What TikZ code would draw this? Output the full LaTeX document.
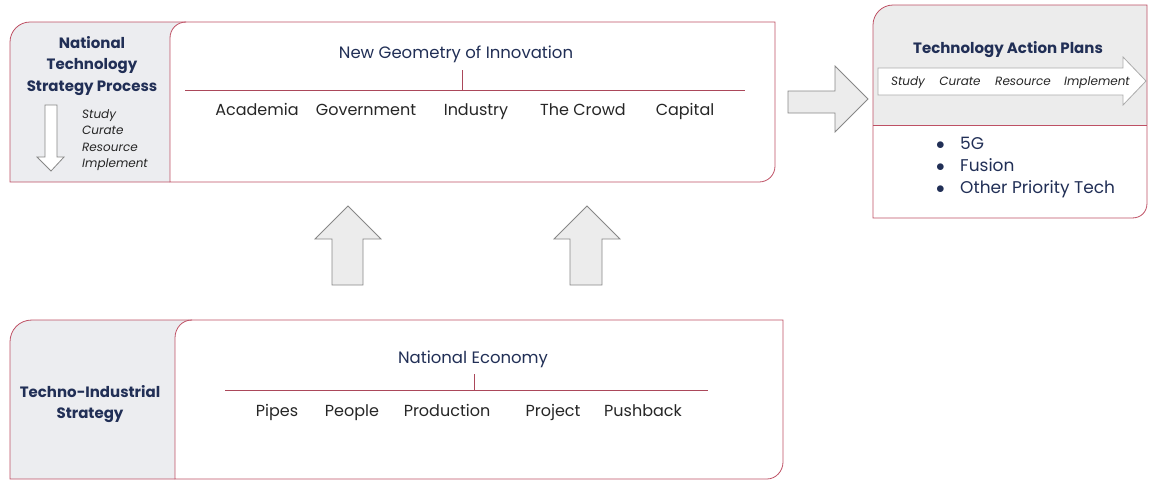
\documentclass[tikz,border=0pt]{standalone}
\usepackage{fontspec}
\setmainfont{Poppins}
\usetikzlibrary{positioning}

\definecolor{navy}{RGB}{33,47,86}
\definecolor{boxred}{RGB}{190,80,100}
\definecolor{panelgray}{RGB}{236,237,240}
\definecolor{arrowgray}{RGB}{236,236,236}
\definecolor{arrowedge}{RGB}{135,135,135}

\newcommand{\bigdot}{\makebox[24pt][l]{$\bullet$}}

\begin{document}
\begin{tikzpicture}[x=1pt, y=-1pt,
        panel/.style={fill=panelgray},
        frame/.style={draw=boxred, line width=0.8pt},
        redline/.style={draw=boxred!90!black, line width=1pt},
        blockarrow/.style={fill=arrowgray, draw=arrowedge, line width=0.8pt, line join=miter},
        title/.style={font=\fontsize{16.5}{20}\selectfont, text=navy, anchor=base},
        head/.style={font=\fontsize{15}{21.5}\selectfont\bfseries, text=navy, align=center},
        item/.style={font=\fontsize{16}{20}\selectfont, text=black!85, anchor=base},
        steps/.style={font=\fontsize{12}{16.5}\selectfont\itshape, text=black!85},
        bullet/.style={font=\fontsize{17}{22}\selectfont, text=navy, anchor=base west},
        every node/.style={inner sep=0pt}
    ]
        \useasboundingbox (0,0) rectangle (1150,482);

        % Khung tren: National Technology Strategy Process
        \path[panel] (10,182) -- (10,42) .. controls (10,31) and (19,22) .. (30,22) -- (190,22) -- (190,182) -- cycle;
        \draw[frame, fill=white] (170,182) -- (170,38) .. controls (170,29) and (177,22) .. (186,22) -- (775,22) -- (775,166) .. controls (775,175) and (768,182) .. (759,182) -- cycle;
        \draw[frame] (170,182) -- (10,182) -- (10,42) .. controls (10,31) and (19,22) .. (30,22) -- (186,22);

        \node[head] (ntsp) at (92,66) {National\\Technology\\Strategy Process};
        \draw[blockarrow, fill=white] (45,105) -- (57,105) -- (57,157) -- (64,157) -- (51,171) -- (37,157) -- (45,157) -- cycle;
        \node[steps, align=left, anchor=north west] (ntspSteps) at (82,109) {Study\\Curate\\Resource\\Implement};

        \node[title] (geo) at (456,58) {New Geometry of Innovation};
        \coordinate (geoL) at (185,90);
        \coordinate (geoR) at (745,90);
        \coordinate (geoTick) at (462,70);
        \draw[redline] (geoL) -- (geoR);
        \draw[redline] (geoTick) -- (geoTick |- geoL);

        \node[item] (academia) at (257,115) {Academia};
        \node[item] (government) at (366,115) {Government};
        \node[item] (industry) at (476,115) {Industry};
        \node[item] (crowd) at (583,115) {The Crowd};
        \node[item] (capital) at (685,115) {Capital};

        % Khung duoi: Techno-Industrial Strategy
        \path[panel] (10,479) -- (10,342) .. controls (10,330) and (19,320) .. (32,320) -- (195,320) -- (195,479) -- cycle;
        \draw[frame, fill=white] (175,479) -- (175,338) .. controls (175,328) and (182,320) .. (192,320) -- (783,320) -- (783,462) .. controls (783,471) and (776,479) .. (767,479) -- cycle;
        \draw[frame] (175,479) -- (10,479) -- (10,342) .. controls (10,330) and (19,320) .. (32,320) -- (192,320);

        \node[head] (tis) at (90,404) {Techno-Industrial\\Strategy};

        \node[title] (econ) at (473,363) {National Economy};
        \coordinate (econL) at (225,390);
        \coordinate (econR) at (708,390);
        \coordinate (econTick) at (474,374);
        \draw[redline] (econL) -- (econR);
        \draw[redline] (econTick) -- (econTick |- econL);

        \node[item] (pipes) at (277,416) {Pipes};
        \node[item] (people) at (352,416) {People};
        \node[item] (production) at (447,416) {Production};
        \node[item] (project) at (553,416) {Project};
        \node[item] (pushback) at (643,416) {Pushback};

        % Mui ten khoi
        \draw[blockarrow] (332,285) -- (332,239) -- (315,239) -- (348,206) -- (381,239) -- (363,239) -- (363,285) -- cycle;
        \draw[blockarrow] (570,285) -- (570,239) -- (554,239) -- (587,206) -- (620,239) -- (602,239) -- (602,285) -- cycle;
        \draw[blockarrow] (788,91) -- (835,91) -- (835,66) -- (868,99) -- (835,132) -- (835,113) -- (788,113) -- cycle;

        % Khung phai: Technology Action Plans
        \path[fill=arrowgray] (873,125) -- (873,25) .. controls (873,14) and (882,5) .. (893,5) -- (1147,5) -- (1147,125) -- cycle;
        \draw[frame] (873,218) -- (873,25) .. controls (873,14) and (882,5) .. (893,5) -- (1147,5) -- (1147,203) .. controls (1147,212) and (1141,218) .. (1132,218) -- cycle;
        \draw[frame] (873,125) -- (1147,125);

        \node[head, anchor=base] (tap) at (1008,53) {Technology Action Plans};
        \draw[blockarrow, fill=white, draw=arrowedge!70] (878,68) -- (1123,68) -- (1123,57) -- (1146,81) -- (1123,105) -- (1123,95) -- (878,95) -- cycle;
        \node[steps, anchor=base] (tapStudy) at (908,85) {Study};
        \node[steps, anchor=base] (tapCurate) at (960,85) {Curate};
        \node[steps, anchor=base] (tapResource) at (1023,85) {Resource};
        \node[steps, anchor=base] (tapImplement) at (1097,85) {Implement};

        \node[bullet] (tap5g) at (936,149) {\bigdot 5G};
        \node[bullet] (tapFusion) at (936,171) {\bigdot Fusion};
        \node[bullet] (tapOther) at (936,193) {\bigdot Other Priority Tech};
    \end{tikzpicture}
\end{document}
